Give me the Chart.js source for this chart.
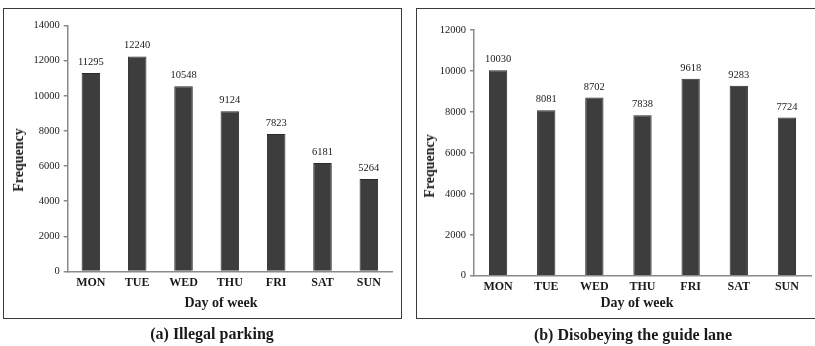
<!DOCTYPE html>
<html>
<head>
<meta charset="utf-8">
<script src="https://cdn.jsdelivr.net/npm/chart.js@4/dist/chart.umd.min.js"></script>
<style>
  html, body { margin: 0; padding: 0; background: #fff; }
  body { width: 815px; height: 346px; overflow: hidden; position: relative;
         font-family: "Liberation Serif", "Times New Roman", serif; color: #1a1a1a; }
  .frame { position: absolute; border: 1.5px solid #3a3a3a; box-sizing: border-box; }
  .cv { position: absolute; }
  .txt { position: absolute; white-space: nowrap; font-weight: bold; transform: translate(-50%, -50%); }
  .axis-title { font-size: 14px; }
  .rot { transform: translate(-50%, -50%) rotate(-90deg); }
  .caption { font-size: 16px; }
</style>
</head>
<body>
<div class="frame" style="left:3px; top:8px; width:399px; height:311px;"></div>
<div class="frame" style="left:416px; top:8px; width:410px; height:311px;"></div>

<canvas id="parkingChart" class="cv" style="left:0px; top:0px;" width="405" height="318"></canvas>
<canvas id="laneChart" class="cv" style="left:410px; top:0px;" width="405" height="318"></canvas>

<div class="txt axis-title rot" style="left:19px; top:160px;">Frequency</div>
<div class="txt axis-title" style="left:221px; top:303px;">Day of week</div>
<div class="txt caption" style="left:212px; top:334px;">(a) Illegal parking</div>

<div class="txt axis-title rot" style="left:430px; top:166px;">Frequency</div>
<div class="txt axis-title" style="left:637px; top:303px;">Day of week</div>
<div class="txt caption" style="left:633px; top:335px;">(b) Disobeying the guide lane</div>

<script>
// Weekday categories shared by both panels
const days = ['MON', 'TUE', 'WED', 'THU', 'FRI', 'SAT', 'SUN'];

// (a) Illegal parking counts per weekday
const illegalParking = [11295, 12240, 10548, 9124, 7823, 6181, 5264];
const parkingAxisMax = 14000;

// (b) Disobeying the guide lane counts per weekday
const guideLane = [10030, 8081, 8702, 7838, 9618, 9283, 7724];
const laneAxisMax = 12000;

const axisStep = 2000;

const SERIF = '"Liberation Serif", "Times New Roman", serif';
const AXIS_GRAY = '#8a8a8a';
const BAR_FILL = '#3d3d3d';
const TEXT = '#1a1a1a';

// Writes each bar's value just above it
const valueLabels = {
  id: 'valueLabels',
  afterDatasetsDraw(chart) {
    const ctx = chart.ctx;
    const ds = chart.data.datasets[0];
    const meta = chart.getDatasetMeta(0);
    ctx.save();
    ctx.font = '10.5px ' + SERIF;
    ctx.fillStyle = TEXT;
    ctx.textAlign = 'center';
    ctx.textBaseline = 'alphabetic';
    meta.data.forEach((bar, i) => {
      ctx.fillText(String(ds.data[i]), bar.x, bar.y - 8);
    });
    ctx.restore();
  }
};

function buildBarChart(canvasId, values, yMax, frame) {
  return new Chart(document.getElementById(canvasId), {
    type: 'bar',
    data: {
      labels: days,
      datasets: [{
        data: values,
        backgroundColor: BAR_FILL,
        borderColor: '#2b2b2b',
        borderWidth: 1,
        barPercentage: frame.barPct,
        categoryPercentage: 1.0
      }]
    },
    options: {
      responsive: false,
      animation: false,
      devicePixelRatio: 1,
      layout: { padding: { left: 0, top: frame.top, right: frame.right, bottom: 0 } },
      plugins: { legend: { display: false }, tooltip: { enabled: false } },
      scales: {
        x: {
          grid: { display: false, drawTicks: false },
          border: { display: true, color: AXIS_GRAY, width: 1.5 },
          ticks: { color: TEXT, padding: 4, font: { family: SERIF, size: 12, weight: 'bold' } },
          afterFit(scale) { scale.height = frame.xHeight; }
        },
        y: {
          min: 0,
          max: yMax,
          ticks: {
            stepSize: axisStep,
            color: TEXT,
            padding: 4,
            font: { family: SERIF, size: 10.5 },
            callback: v => String(v)
          },
          grid: { display: true, drawOnChartArea: false, drawTicks: true, tickLength: 4,
                  color: AXIS_GRAY, lineWidth: 1.5 },
          border: { display: true, color: AXIS_GRAY, width: 1.5 },
          afterFit(scale) { scale.width = frame.yWidth; }
        }
      }
    },
    plugins: [valueLabels]
  });
}

buildBarChart('parkingChart', illegalParking, parkingAxisMax,
  { top: 25.5, right: 13, xHeight: 46.5, yWidth: 67.7, barPct: 0.40 });

buildBarChart('laneChart', guideLane, laneAxisMax,
  { top: 30, right: 4, xHeight: 42.3, yWidth: 64, barPct: 0.38 });
</script>
</body>
</html>
